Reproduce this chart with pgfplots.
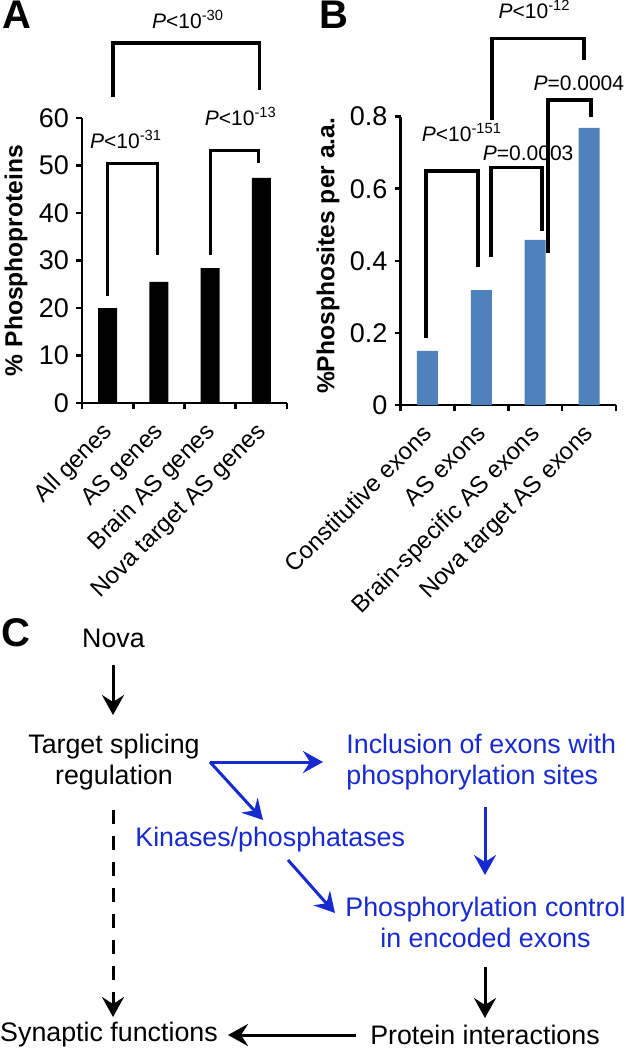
\documentclass[border=0pt]{standalone}
\usepackage{fontspec}
\setmainfont{Liberation Sans}
\usepackage{pgfplots}
\pgfplotsset{compat=1.18}
\usetikzlibrary{arrows.meta}
\definecolor{barblue}{HTML}{4F81BD}
\definecolor{diagblue}{RGB}{22,42,208}
\newcommand{\tfont}{\fontsize{13.5}{15}\selectfont}
\newcommand{\xfont}{\fontsize{12}{14}\selectfont}
\newcommand{\yfont}{\fontsize{12.3}{14}\selectfont\bfseries}
\newcommand{\pfont}{\fontsize{10.5}{12}\selectfont}
\newcommand{\cfont}{\fontsize{13.4}{15.5}\selectfont}
\newcommand{\Lfont}{\fontsize{20}{22}\selectfont\bfseries}

\pgfplotsset{
  panel/.style={
    scale only axis, clip=false,
    xmin=0.5, xmax=4.5, ymin=0,
    axis x line*=bottom, axis y line*=left,
    axis line style={line width=1.3pt,-},
    xtick={1,2,3,4},
    minor xtick={0.5,1.5,2.5,3.5,4.5},
    tick align=outside,
    major tick length=3pt, minor tick length=3pt,
    major x tick style={draw=none},
    minor x tick style={line width=1.3pt,black},
    major y tick style={line width=1.3pt,black},
    /pgf/number format/assume math mode=true,
    yticklabel style={font=\tfont},
    xticklabel style={font=\xfont, xshift=-3.3pt, yshift=-5.7pt, rotate=45, anchor=north east, inner sep=0pt},
    ylabel style={anchor=center, font=\yfont},
    ybar,
  },
}
\tikzset{
  pl/.style={font=\pfont, anchor=base, inner sep=0pt},
  br/.style={line width=1.6pt, line cap=butt, line join=miter},
  arr/.style={line width=1.5pt, -{Stealth[length=10pt,width=11pt,inset=3.5pt]}},
}

\begin{document}
\begin{tikzpicture}
\path[use as bounding box] (0pt,0pt) rectangle (313pt,-525pt);

% ---------------- Panel A ----------------
\node[font=\Lfont] at (8.5pt,-7.5pt) {A};
\begin{axis}[panel,
  at={(41pt,-201.5pt)}, anchor=south west,
  width=102.5pt, height=142.5pt,
  ymax=60, ytick={0,10,20,30,40,50,60},
  xticklabels={All genes, AS genes, Brain AS genes, Nova target AS genes},
  ylabel={\% Phosphoproteins},
  ylabel style={at={(axis description cs:-0.322,0.5)}},
  bar width=9.5pt,
]
\addplot[fill=black, draw=none] coordinates {(1,20.0) (2,25.5) (3,28.4) (4,47.4)};
\draw[br] (axis cs:0.99,22.5) |- (axis cs:1.98,50.5) -- (axis cs:1.98,31.2);
\draw[br] (axis cs:3.0,31.2) |- (axis cs:3.95,53.1) -- (axis cs:3.95,50.5);
\draw[br] (axis cs:1.105,64.4) |- (axis cs:3.97,75.8) -- (axis cs:3.97,65.9);
\node[pl] at (axis cs:1.36,53.5) {\textit{P}<10\textsuperscript{-31}};
\node[pl] at (axis cs:3.6,58.5) {\textit{P}<10\textsuperscript{-13}};
\node[pl] at (axis cs:2.57,78.9) {\textit{P}<10\textsuperscript{-30}};
\end{axis}

% ---------------- Panel B ----------------
\node[font=\Lfont] at (167pt,-7.5pt) {B};
\begin{axis}[panel,
  at={(200.25pt,-202.5pt)}, anchor=south west,
  width=107.75pt, height=144.2pt,
  ymax=0.8, ytick={0,0.2,0.4,0.6,0.8},
  yticklabel style={/pgf/number format/fixed, /pgf/number format/precision=1},
  xticklabels={Constitutive exons, AS exons, Brain-specific AS exons, Nova target AS exons},
  ylabel={\%Phosphosites per a.a.},
  ylabel style={at={(axis description cs:-0.336,0.517)}},
  bar width=10.5pt,
]
\addplot[fill=barblue, draw=none] coordinates {(1,0.150) (2,0.319) (3,0.458) (4,0.769)};
\draw[br] (axis cs:0.973,0.186) |- (axis cs:1.939,0.649) -- (axis cs:1.939,0.383);
\draw[br] (axis cs:2.18,0.411) |- (axis cs:3.127,0.658) -- (axis cs:3.127,0.483);
\draw[br] (axis cs:3.238,0.422) |- (axis cs:4.036,0.846) -- (axis cs:4.036,0.799);
\draw[br] (axis cs:2.198,0.791) |- (axis cs:3.906,1.016) -- (axis cs:3.906,0.957);
\node[pl] at (axis cs:1.64,0.731) {\textit{P}<10\textsuperscript{-151}};
\node[pl] at (axis cs:2.87,0.678) {\textit{P}=0.0003};
\node[pl] at (axis cs:3.81,0.872) {\textit{P}=0.0004};
\node[pl] at (axis cs:2.99,1.073) {\textit{P}<10\textsuperscript{-12}};
\end{axis}

% ---------------- Panel C ----------------
\node[font=\Lfont] at (8pt,-316.5pt) {C};
\node[font=\cfont] at (56.75pt,-319pt) {Nova};
\draw[arr] (56.5pt,-332.5pt) -- (56.5pt,-357.5pt);
\node[font=\cfont, align=center] at (57pt,-381.25pt) {Target splicing\\regulation};
\draw[arr, diagblue] (105pt,-381pt) -- (161.5pt,-381pt);
\draw[arr, diagblue] (105pt,-381pt) -- (131.5pt,-410pt);
\node[font=\cfont, text=diagblue, align=left, anchor=west, inner sep=0pt] at (173pt,-381pt) {Inclusion of exons with\\phosphorylation sites};
\draw[arr, diagblue] (242.5pt,-403.5pt) -- (242.5pt,-437.5pt);
\node[font=\cfont, text=diagblue, anchor=west, inner sep=0pt] at (67.5pt,-420pt) {Kinases/phosphatases};
\draw[arr, diagblue] (144pt,-430pt) -- (167.5pt,-456.5pt);
\node[font=\cfont, text=diagblue, align=center] at (242.75pt,-461.25pt) {Phosphorylation control\\in encoded exons};
\draw[arr] (242.5pt,-483.5pt) -- (242.5pt,-509pt);
\draw[arr, dash pattern=on 7pt off 6pt] (56.5pt,-405pt) -- (56.5pt,-508.5pt);
\node[font=\cfont] at (54.5pt,-517.5pt) {Synaptic functions};
\draw[arr] (178pt,-517.5pt) -- (114pt,-517.5pt);
\node[font=\cfont] at (242.5pt,-517.5pt) {Protein interactions};
\end{tikzpicture}
\end{document}
